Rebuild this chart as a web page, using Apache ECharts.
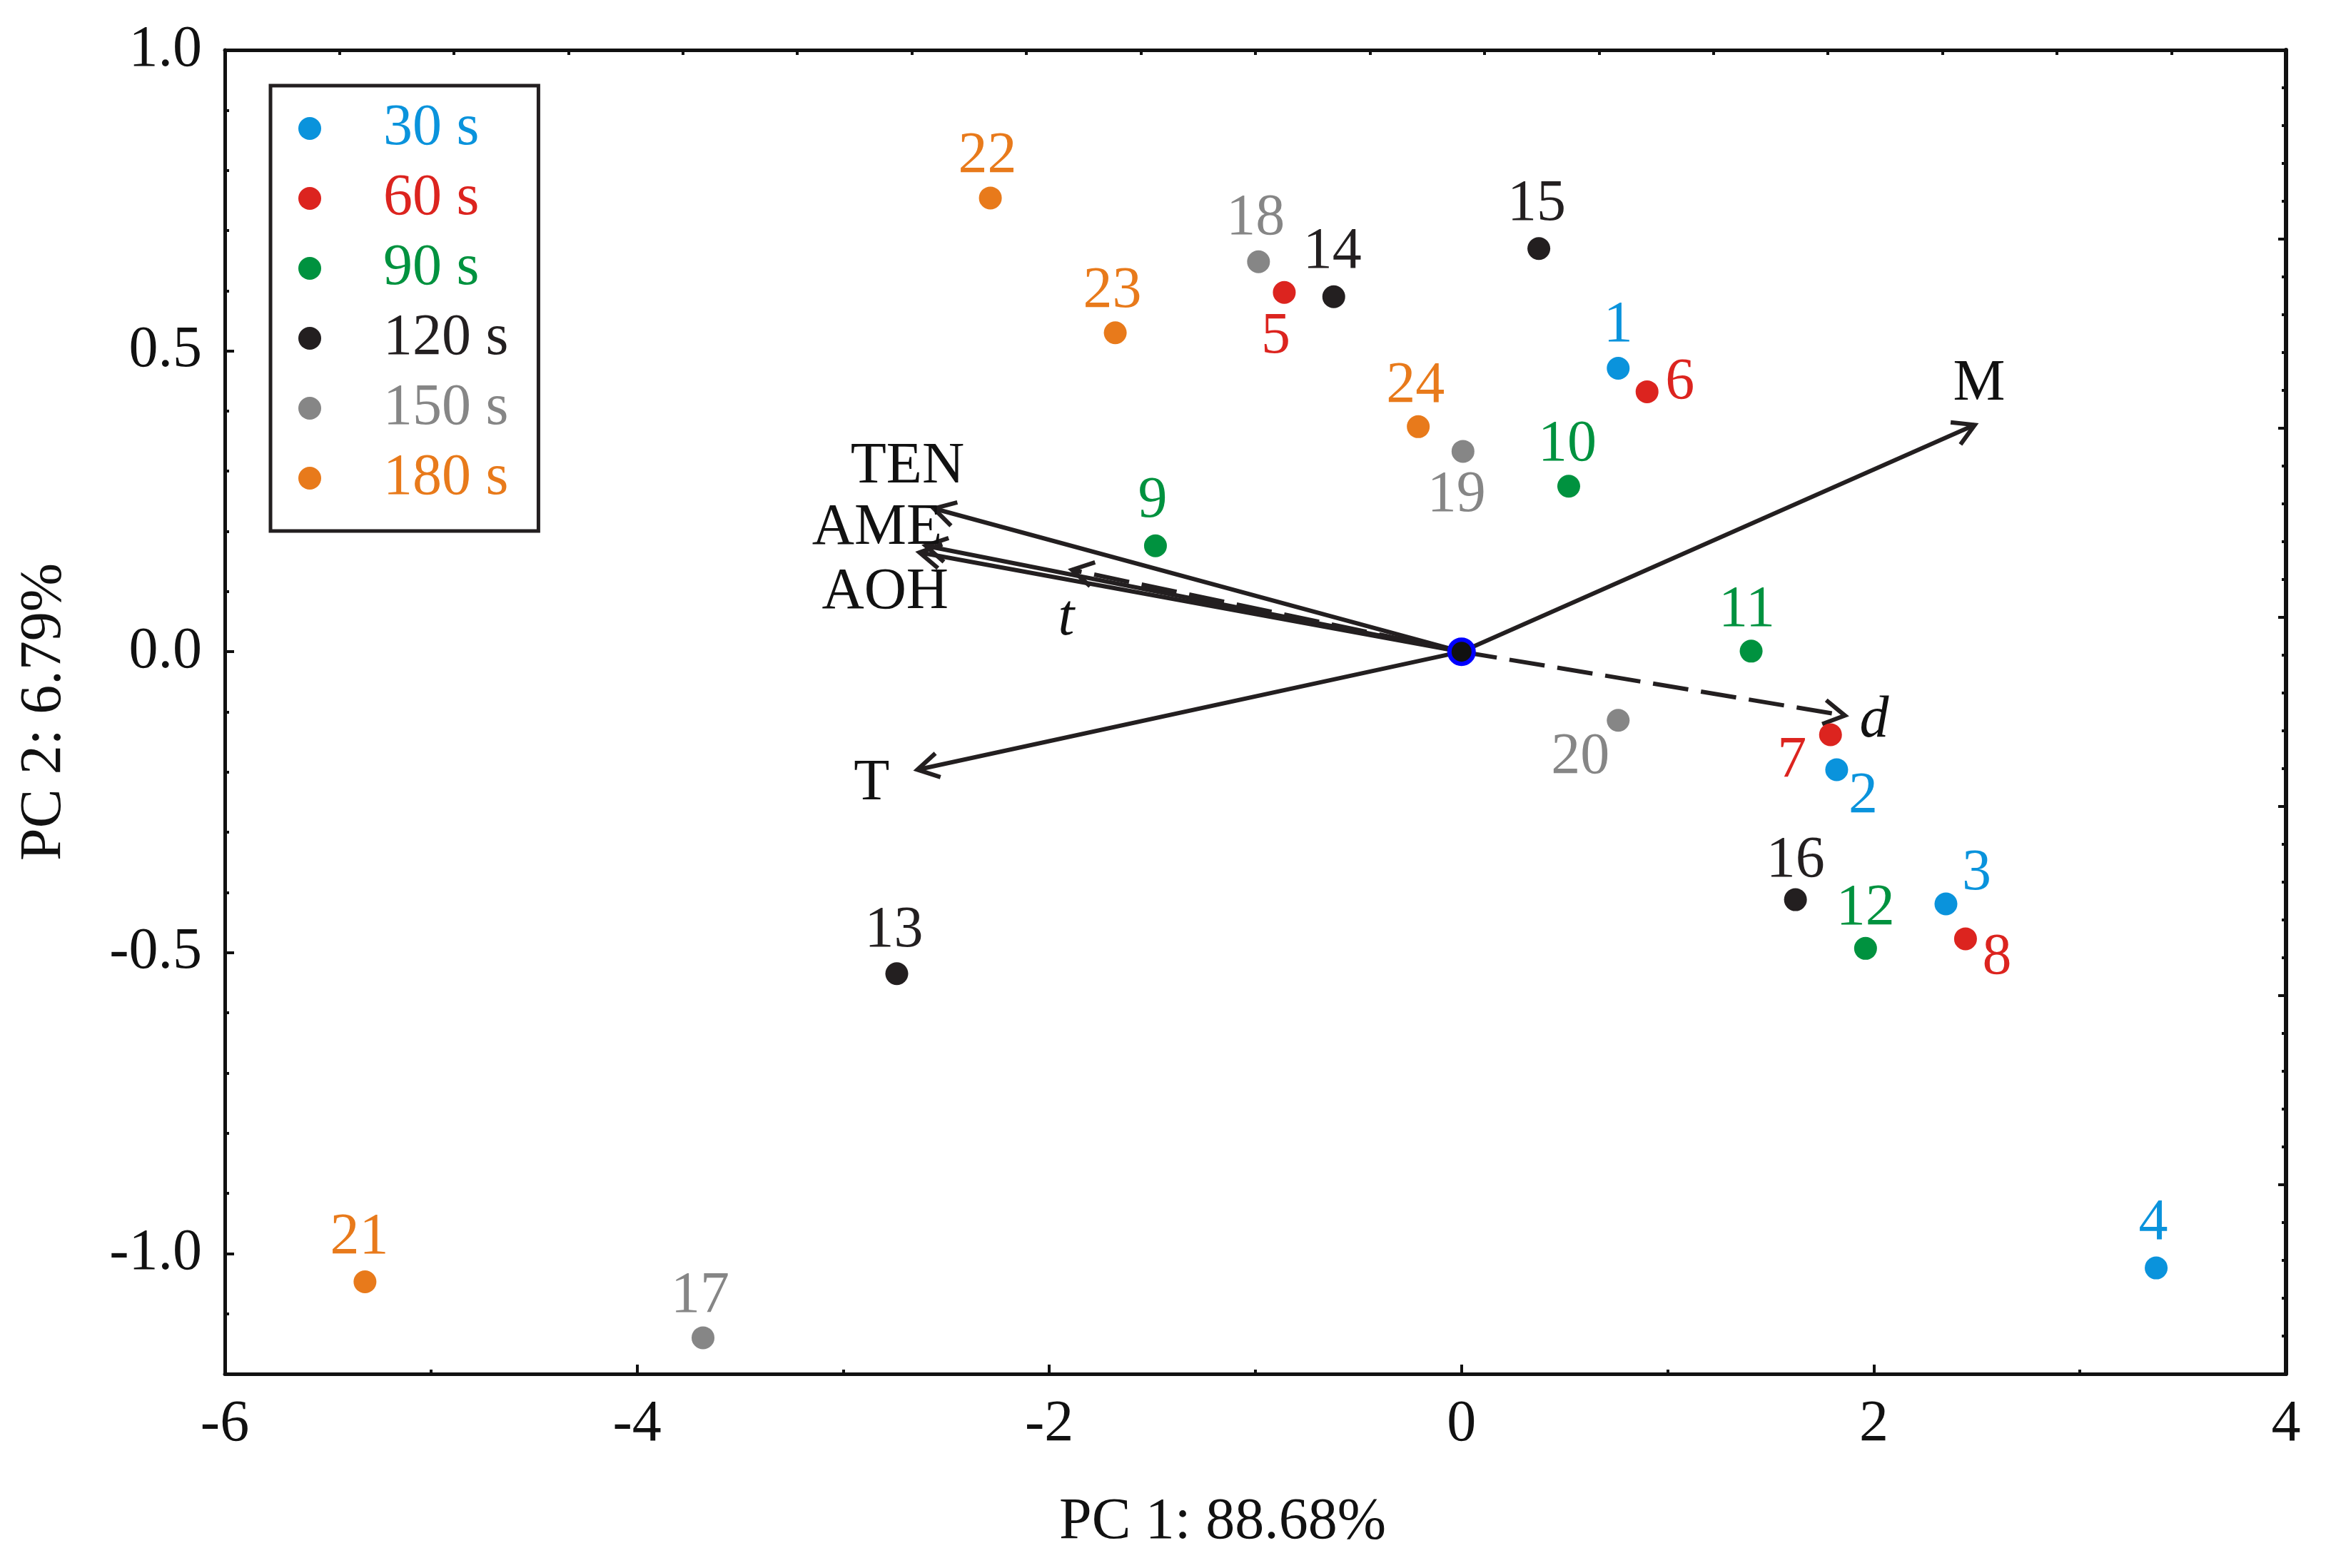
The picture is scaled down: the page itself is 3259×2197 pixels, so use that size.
<html>
<head>
    <meta charset="utf-8">
    <title>PCA biplot</title>
    <script src="https://cdn.jsdelivr.net/npm/echarts@6/dist/echarts.min.js"></script>
    <style>
        html, body { margin: 0; padding: 0; width: 100%; height: 100%; background: #fff; }
        #main { width: 3259px; height: 2197px; }
    </style>
</head>
<body>
    <div id="main"></div>
    <script type="text/javascript">
        // sample scores, one group per treatment time
        var groups = ['30 s', '60 s', '90 s', '120 s', '150 s', '180 s'];
        var ids30 = ['1', '2', '3', '4'];
        var pc1_30 = [0.76, 1.82, 2.35, 3.37];
        var pc2_30 = [0.471, -0.196, -0.419, -1.024];
        var ids60 = ['5', '6', '7', '8'];
        var pc1_60 = [-0.86, 0.90, 1.79, 2.445];
        var pc2_60 = [0.597, 0.432, -0.138, -0.477];
        var ids90 = ['9', '10', '11', '12'];
        var pc1_90 = [-1.485, 0.52, 1.405, 1.96];
        var pc2_90 = [0.176, 0.275, 0.001, -0.493];
        var ids120 = ['13', '14', '15', '16'];
        var pc1_120 = [-2.74, -0.62, 0.375, 1.62];
        var pc2_120 = [-0.535, 0.59, 0.670, -0.412];
        var ids150 = ['17', '18', '19', '20'];
        var pc1_150 = [-3.68, -0.985, 0.007, 0.76];
        var pc2_150 = [-1.14, 0.648, 0.333, -0.114];
        var ids180 = ['21', '22', '23', '24'];
        var pc1_180 = [-5.32, -2.286, -1.68, -0.21];
        var pc2_180 = [-1.047, 0.754, 0.530, 0.374];

        // variable loadings (arrows from origin)
        var vecNames = ['M', 'TEN', 'AME', 'AOH', 't', 'T', 'd'];
        var vecPC1 = [2.49, -2.56, -2.60, -2.63, -1.89, -2.64, 1.86];
        var vecPC2 = [0.377, 0.238, 0.176, 0.165, 0.136, -0.196, -0.106];
        var vecDashed = [false, false, false, false, true, false, true];

        // axis ticks
        var xTicks = [-6, -4, -2, 0, 2, 4];
        var yTicks = [-1.0, -0.5, 0.0, 0.5, 1.0];

        // styling only
        var colors = ['#0a93dc', '#dc241f', '#00923f', '#231f20', '#868686', '#e87a1b'];
        var FONT = 'Liberation Serif';
        var labelOffsets = {
            '1': [0, -60], '2': [37, 38], '3': [43, -42], '4': [-4, -62],
            '5': [-12, 63], '6': [46, -12], '7': [-54, 37], '8': [44, 27],
            '9': [-4, -62], '10': [-2, -58], '11': [-6, -57], '12': [0, -55],
            '13': [-4, -60], '14': [-2, -62], '15': [-3, -62], '16': [0, -54],
            '17': [-4, -58], '18': [-4, -60], '19': [-9, 62], '20': [-53, 52],
            '21': [-8, -62], '22': [-4, -58], '23': [-4, -58], '24': [-4, -56]
        };
        var vecLabelOffsets = [[6, -57], [-37, -58], [-68, -24], [-48, 56], [-8, 69], [-64, 20], [41, 8]];

        var groupIds = [ids30, ids60, ids90, ids120, ids150, ids180];
        var groupX = [pc1_30, pc1_60, pc1_90, pc1_120, pc1_150, pc1_180];
        var groupY = [pc2_30, pc2_60, pc2_90, pc2_120, pc2_150, pc2_180];

        var myChart = echarts.init(document.getElementById('main'), null, {renderer: 'canvas'});

        var series = [];

        // arrows
        series.push({
            type: 'custom',
            name: 'loadings',
            coordinateSystem: 'cartesian2d',
            xAxisIndex: 0,
            yAxisIndex: 0,
            z: 2,
            silent: true,
            data: vecPC1.map(function (x, i) { return [x, vecPC2[i]]; }),
            renderItem: function (params, api) {
                var i = params.dataIndex;
                var o = api.coord([0, 0]);
                var p = api.coord([api.value(0), api.value(1)]);
                var ang = Math.atan2(p[1] - o[1], p[0] - o[0]);
                var L = 34, a = Math.PI / 6;
                var h1 = [p[0] - L * Math.cos(ang - a), p[1] - L * Math.sin(ang - a)];
                var h2 = [p[0] - L * Math.cos(ang + a), p[1] - L * Math.sin(ang + a)];
                var off = vecLabelOffsets[i];
                var italic = vecNames[i] === 't' || vecNames[i] === 'd';
                return {
                    type: 'group',
                    children: [
                        {
                            type: 'line',
                            shape: {x1: o[0], y1: o[1], x2: p[0], y2: p[1]},
                            style: {stroke: '#231f20', lineWidth: 6, fill: null,
                                    lineDash: vecDashed[i] ? [50, 18] : null}
                        },
                        {
                            type: 'polyline',
                            shape: {points: [h1, p, h2]},
                            style: {stroke: '#231f20', lineWidth: 6, fill: null}
                        },
                        {
                            type: 'text',
                            x: p[0] + off[0],
                            y: p[1] + off[1],
                            style: {
                                text: vecNames[i],
                                fill: '#111',
                                font: (italic ? 'italic ' : '') + '82px "' + FONT + '"',
                                align: 'center',
                                verticalAlign: 'middle'
                            }
                        }
                    ]
                };
            }
        });

        // sample points
        groups.forEach(function (g, gi) {
            series.push({
                type: 'scatter',
                name: g,
                xAxisIndex: 0,
                yAxisIndex: 0,
                z: 3,
                symbol: 'circle',
                symbolSize: 32,
                itemStyle: {color: colors[gi], opacity: 1},
                label: {
                    show: true,
                    position: 'inside',
                    formatter: '{b}',
                    color: colors[gi],
                    fontSize: 82,
                    fontFamily: FONT
                },
                data: groupIds[gi].map(function (id, k) {
                    return {
                        name: id,
                        value: [groupX[gi][k], groupY[gi][k]],
                        label: {offset: labelOffsets[id]}
                    };
                })
            });
        });

        // origin marker
        series.push({
            type: 'scatter',
            name: 'origin',
            xAxisIndex: 0,
            yAxisIndex: 0,
            z: 4,
            symbolSize: 34,
            itemStyle: {color: '#111', borderColor: '#0000ff', borderWidth: 6, opacity: 1},
            data: [[0, 0]]
        });

        var richStyles = {};
        groups.forEach(function (g, gi) {
            richStyles['g' + gi] = {
                color: colors[gi],
                fontSize: 82,
                fontFamily: FONT,
                lineHeight: 66,
                padding: [0, 0, 0, 82]
            };
        });

        var option = {
            backgroundColor: '#fff',
            animation: false,
            grid: {left: 315, right: 56, top: 70, bottom: 272, containLabel: false},
            legend: {
                orient: 'vertical',
                left: 379,
                top: 120,
                padding: [19, 42, 33, 39],
                itemGap: 16,
                itemWidth: 32,
                itemHeight: 32,
                icon: 'circle',
                borderColor: '#231f20',
                borderWidth: 5,
                borderRadius: 0,
                data: groups,
                formatter: function (name) {
                    return '{g' + groups.indexOf(name) + '|' + name + '}';
                },
                textStyle: {fontFamily: FONT, fontSize: 82, lineHeight: 66, rich: richStyles}
            },
            xAxis: [
                {
                    type: 'value',
                    position: 'bottom',
                    min: xTicks[0],
                    max: xTicks[xTicks.length - 1],
                    interval: 2,
                    name: 'PC 1: 88.68%',
                    nameLocation: 'middle',
                    nameGap: 167,
                    nameTextStyle: {fontFamily: FONT, fontSize: 82, color: '#111', padding: [0, 92, 0, 0]},
                    axisLine: {onZero: false, lineStyle: {color: '#111', width: 5}},
                    axisTick: {inside: true, length: 13, lineStyle: {color: '#111', width: 4}},
                    minorTick: {show: true, splitNumber: 2, length: 6, lineStyle: {color: '#111', width: 4}},
                    axisLabel: {fontFamily: FONT, fontSize: 82, color: '#111', margin: 30},
                    splitLine: {show: false}
                },
                {
                    type: 'value',
                    position: 'top',
                    min: 0,
                    max: 18,
                    interval: 1,
                    axisLine: {onZero: false, lineStyle: {color: '#111', width: 5}},
                    axisTick: {inside: true, length: 7, lineStyle: {color: '#111', width: 4}},
                    axisLabel: {show: false},
                    splitLine: {show: false}
                }
            ],
            yAxis: [
                {
                    type: 'value',
                    position: 'left',
                    min: -1.2,
                    max: yTicks[yTicks.length - 1],
                    splitNumber: 4,
                    minInterval: 0.5,
                    maxInterval: 0.5,
                    name: 'PC 2: 6.79%',
                    nameLocation: 'middle',
                    nameGap: 212,
                    nameTextStyle: {fontFamily: FONT, fontSize: 82, color: '#111'},
                    axisLine: {onZero: false, lineStyle: {color: '#111', width: 5}},
                    axisTick: {inside: true, length: 13, lineStyle: {color: '#111', width: 4}},
                    axisLabel: {
                        fontFamily: FONT, fontSize: 82, color: '#111', margin: 32,
                        showMinLabel: false,
                        formatter: function (v) {
                            return yTicks.some(function (t) { return Math.abs(t - v) < 1e-6; }) ? v.toFixed(1) : '';
                        }
                    },
                    splitLine: {show: false}
                },
                {
                    type: 'value',
                    position: 'right',
                    min: 0,
                    max: 7,
                    interval: 1,
                    axisLine: {onZero: false, lineStyle: {color: '#111', width: 6}},
                    axisTick: {inside: true, length: 11, lineStyle: {color: '#111', width: 4}},
                    minorTick: {show: true, splitNumber: 5, length: 6, lineStyle: {color: '#111', width: 4}},
                    axisLabel: {show: false},
                    splitLine: {show: false}
                },
                {
                    // minor ticks of the left axis, every 0.1
                    type: 'value',
                    position: 'left',
                    min: -1.2,
                    max: 1.0,
                    interval: 0.1,
                    axisLine: {show: false, onZero: false},
                    axisTick: {inside: true, length: 6, lineStyle: {color: '#111', width: 4}},
                    axisLabel: {show: false},
                    splitLine: {show: false}
                }
            ],
            series: series
        };
        myChart.setOption(option);
    </script>
</body>
</html>
